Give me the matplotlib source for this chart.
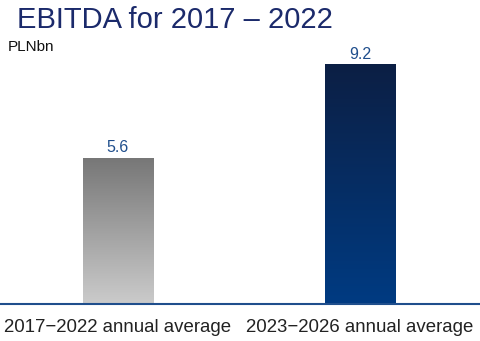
import numpy as np
import matplotlib.pyplot as plt
from matplotlib.colors import LinearSegmentedColormap

plt.rcParams['font.family'] = ['Liberation Sans', 'DejaVu Sans']

categories = ['2017\u22122022 annual average', '2023\u22122026 annual average']
values = [5.6, 9.2]
labels = ['5.6', '9.2']
# gradient colours: (top, bottom)
bar_colors = [('#777777', '#cbcbcb'), ('#0c1f44', '#003b82')]

fig = plt.figure(figsize=(4.81, 3.41), dpi=100)
ax = fig.add_axes([0, 37 / 341, 1, (304 - 50) / 341])

width = 0.29
x = np.arange(len(values))
ax.set_xlim(-118 / 242, (481 - 118) / 242)
ax.set_ylim(0, (304 - 50) / 26)

grad = np.linspace(0, 1, 256).reshape(-1, 1)
for xi, v, (top, bot), lab in zip(x, values, bar_colors, labels):
    cmap = LinearSegmentedColormap.from_list('g', [bot, top])
    ax.imshow(grad, cmap=cmap, aspect='auto', origin='lower',
              extent=(xi - width / 2, xi + width / 2, 0, v), zorder=2)
    ax.text(xi, v + 0.12, lab, ha='center', va='bottom',
            fontsize=11.5, color='#1f4e8c')

ax.set_xticks(x)
ax.set_xticklabels(categories, fontsize=13.4, color='#222222')
ax.tick_params(axis='x', length=0, pad=11)
ax.set_yticks([])
for s in ['top', 'right', 'left']:
    ax.spines[s].set_visible(False)
ax.spines['bottom'].set_color('#1f4e8c')
ax.spines['bottom'].set_linewidth(1.5)

fig.text(17 / 481, 1 - 28 / 341, 'EBITDA for 2017 \u2013 2022', fontsize=21,
         color='#1b2a6b', ha='left', va='baseline')
fig.text(8 / 481, 1 - 47 / 341, 'PLNbn', fontsize=11, color='#111111',
         ha='left', va='center')

fig.savefig('out.png', dpi=100)
